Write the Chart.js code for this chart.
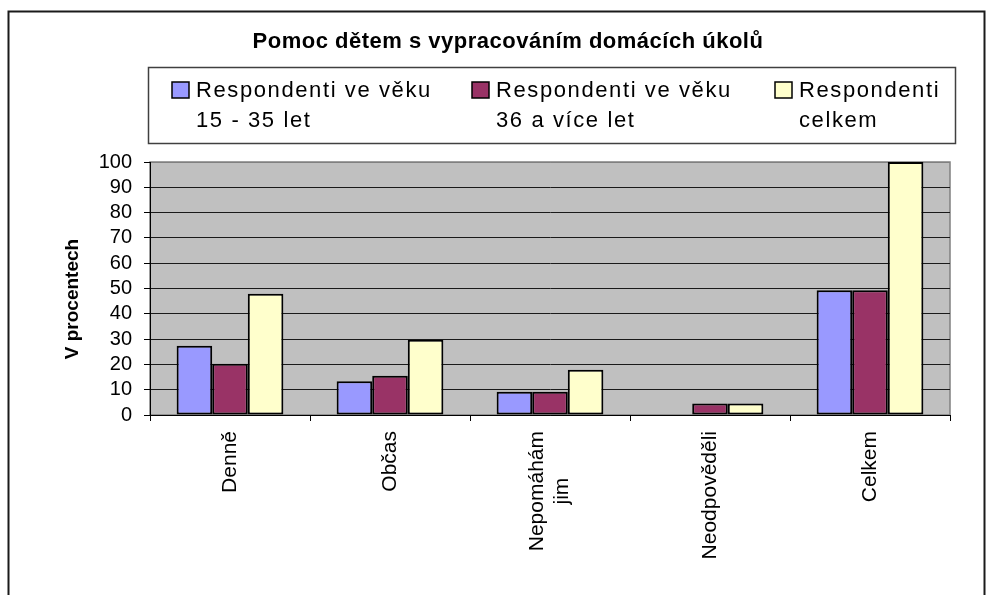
<!DOCTYPE html>
<html>
<head>
<meta charset="utf-8">
<script src="https://cdn.jsdelivr.net/npm/chart.js@4.4.1/dist/chart.umd.min.js"></script>
<style>
  html, body { margin: 0; padding: 0; background: #ffffff; }
  #wrap { position: relative; width: 996px; height: 595px; }
</style>
</head>
<body>
<div id="wrap"><canvas id="c"></canvas></div>
<script>
// ---- data ----
const chartTitle = 'Pomoc dětem s vypracováním domácích úkolů';
const yAxisTitle = 'V procentech';
const categories = ['Denně', 'Občas', ['Nepomáhám', 'jim'], 'Neodpověděli', 'Celkem'];
const seriesNames = [
  ['Respondenti ve věku', '15 - 35 let'],
  ['Respondenti ve věku', '36 a více let'],
  ['Respondenti', 'celkem']
];
const age15to35 = [27.4, 13.3, 9.2, 0, 49.3];
const age36plus = [20.3, 15.5, 9.2, 4.5, 49.3];
const allRespondents = [47.9, 29.7, 17.9, 4.5, 100];
const yTicks = [0, 10, 20, 30, 40, 50, 60, 70, 80, 90, 100];
const seriesColors = ['#9999FF', '#993366', '#FFFFCC'];

const FONT = '"Liberation Sans", Arial, sans-serif';

const framePlugin = {
  id: 'frame',
  afterLayout(chart) {
    // slightly spaced title text, as in the reference
    const t = chart.titleBlock;
    if (t && !t._spaced) {
      const orig = t.draw.bind(t);
      t.draw = function (area) {
        const c = chart.ctx;
        try { c.letterSpacing = '0.5px'; } catch (e) {}
        orig(area);
        try { c.letterSpacing = '0px'; } catch (e) {}
      };
      t._spaced = true;
    }
  },
  beforeDraw(chart) {
    const { ctx, chartArea: a } = chart;
    ctx.save();
    ctx.fillStyle = '#ffffff';
    ctx.fillRect(0, 0, chart.width, chart.height);
    // outer chart frame
    ctx.strokeStyle = '#1a1a1a';
    ctx.lineWidth = 2;
    ctx.strokeRect(8.5, 11.5, 976, 620);
    // plot area background
    ctx.fillStyle = '#C0C0C0';
    ctx.fillRect(a.left, a.top, a.right - a.left, a.bottom - a.top);
    ctx.strokeStyle = '#808080';
    ctx.lineWidth = 1.5;
    ctx.strokeRect(a.left, a.top, a.right - a.left, a.bottom - a.top);
    ctx.restore();

    // center multi-line rotated category labels on their tick, lines centred on each other
    const sx = chart.scales.x;
    sx.getLabelItems().forEach(it => {
      if (Array.isArray(it.label) && !it._centered) {
        ctx.save();
        ctx.font = it.font.string;
        const w = Math.max(...it.label.map(s => ctx.measureText(s).width));
        ctx.restore();
        it.options.translation[0] -= it.font.lineHeight * (it.label.length - 1) / 2;
        it.options.translation[1] += w / 2;
        it.options.textAlign = 'center';
        it._centered = true;
      }
    });
  },
  afterDraw(chart) {
    const { ctx, chartArea: a } = chart;
    const box = { left: a.left - 2, top: a.top - 95, right: a.right + 5, bottom: a.top - 19 };
    ctx.save();
    ctx.fillStyle = '#ffffff';
    ctx.fillRect(box.left, box.top, box.right - box.left, box.bottom - box.top);
    ctx.strokeStyle = '#404040';
    ctx.lineWidth = 1.5;
    ctx.strokeRect(box.left + 0.5, box.top + 0.5, box.right - box.left, box.bottom - box.top);
    const offsets = [24, 324, 627];
    chart.data.datasets.forEach((ds, i) => {
      const x = box.left + offsets[i];
      const y = box.top + 15;
      ctx.fillStyle = ds.backgroundColor;
      ctx.fillRect(x, y, 17, 16);
      ctx.strokeStyle = '#000000';
      ctx.lineWidth = 1.5;
      ctx.strokeRect(x, y, 17, 16);
      ctx.fillStyle = '#000000';
      ctx.font = '22px ' + FONT;
      ctx.textAlign = 'left';
      ctx.textBaseline = 'alphabetic';
      try { ctx.letterSpacing = '1.6px'; } catch (e) {}
      seriesNames[i].forEach((line, j) => {
        ctx.fillText(line, x + 24, box.top + 30 + j * 30);
      });
      try { ctx.letterSpacing = '0px'; } catch (e) {}
    });
    ctx.restore();
  }
};

new Chart(document.getElementById('c'), {
  type: 'bar',
  data: {
    labels: categories,
    datasets: [
      { label: seriesNames[0].join(' '), data: age15to35, backgroundColor: seriesColors[0] },
      { label: seriesNames[1].join(' '), data: age36plus, backgroundColor: seriesColors[1] },
      { label: seriesNames[2].join(' '), data: allRespondents, backgroundColor: seriesColors[2] }
    ]
  },
  options: {
    responsive: true,
    maintainAspectRatio: false,
    animation: false,
    events: [],
    layout: { padding: { left: 66, right: 46, top: 0, bottom: 0 } },
    datasets: {
      bar: {
        borderColor: '#000000',
        borderWidth: 2,
        borderSkipped: false,
        categoryPercentage: 0.667,
        barPercentage: 1.0
      }
    },
    plugins: {
      legend: { display: false },
      tooltip: { enabled: false },
      title: {
        display: true,
        text: chartTitle,
        color: '#000000',
        font: { family: FONT, size: 22, weight: 'bold', lineHeight: 1.2 },
        padding: { top: 29, bottom: 106.6 }
      }
    },
    scales: {
      x: {
        grid: {
          display: true,
          drawOnChartArea: false,
          drawTicks: true,
          tickLength: 6,
          tickColor: '#000000',
          offset: true
        },
        border: { display: true, color: '#000000', width: 1 },
        ticks: {
          autoSkip: false,
          maxRotation: 90,
          minRotation: 90,
          padding: 10,
          color: '#000000',
          font: { family: FONT, size: 21, lineHeight: 1.2 }
        },
        afterFit(scale) { scale.height = 180; }
      },
      y: {
        min: yTicks[0],
        max: yTicks[yTicks.length - 1],
        afterBuildTicks(scale) { scale.ticks = yTicks.map(v => ({ value: v })); },
        grid: {
          color: ctx => (ctx.tick && ctx.tick.value === yTicks[yTicks.length - 1]) ? '#808080' : '#1a1a1a',
          lineWidth: 1,
          drawTicks: true,
          tickLength: 6,
          tickColor: '#000000'
        },
        border: { display: true, color: '#000000', width: 1 },
        ticks: {
          autoSkip: false,
          padding: 12,
          color: '#000000',
          font: { family: FONT, size: 20 }
        },
        title: {
          display: true,
          text: yAxisTitle + '\u00a0\u00a0\u00a0\u00a0',
          color: '#000000',
          font: { family: FONT, size: 19, weight: 'bold', lineHeight: 1.2 },
          padding: { top: -5, bottom: 0 }
        },
        afterFit(scale) { scale.width = 84; }
      }
    }
  },
  plugins: [framePlugin]
});
</script>
</body>
</html>
